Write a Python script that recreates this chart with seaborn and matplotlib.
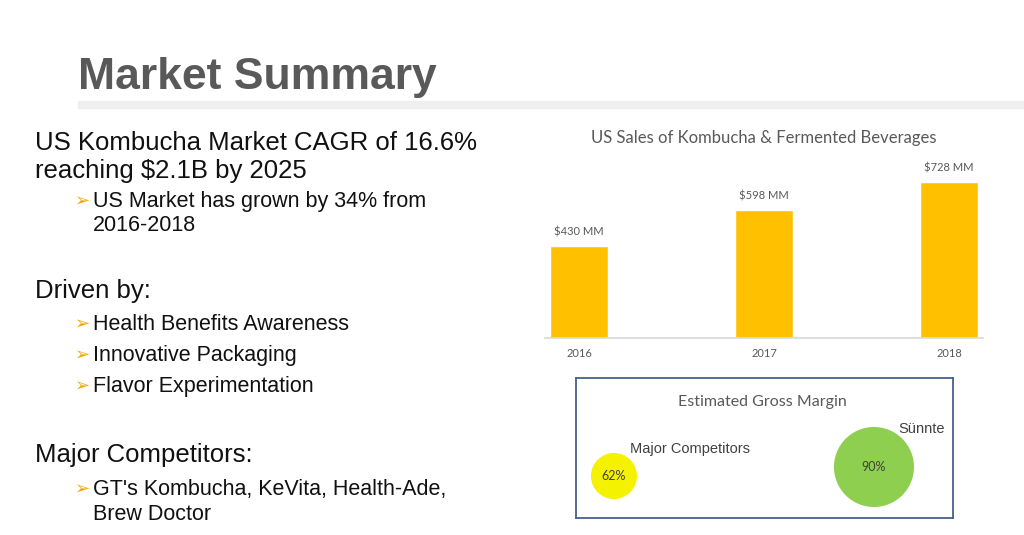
import matplotlib
matplotlib.use("Agg")
import matplotlib.pyplot as plt
import seaborn as sns
from matplotlib.patches import Rectangle

# ---------------------------------------------------------------------------
# data
# ---------------------------------------------------------------------------
years = ["2016", "2017", "2018"]
sales_mm = [430, 598, 728]

margin_groups = ["Major Competitors", "Sünnte"]
margin_pct = [62, 90]

headline = ["US Kombucha Market CAGR of 16.6%", "reaching $2.1B by 2025"]
growth_note = ["US Market has grown by 34% from", "2016-2018"]
drivers = ["Health Benefits Awareness", "Innovative Packaging", "Flavor Experimentation"]
competitors = ["GT's Kombucha, KeVita, Health-Ade,", "Brew Doctor"]

# ---------------------------------------------------------------------------
# style
# ---------------------------------------------------------------------------
sns.set_theme(style="white")
plt.rcParams["font.family"] = ["Liberation Sans", "DejaVu Sans"]

W, H = 1024, 535
GOLD = "#ffc000"
ARROW = "#f2a900"
GREY = "#595959"


def fx(px):
    return px / W


def fy(py):
    return 1 - py / H


fig = plt.figure(figsize=(10.24, 5.35), dpi=100)

# title + grey band
fig.text(fx(78), fy(89), "Market Summary", fontsize=32, fontweight="bold",
         color=GREY, family=["Liberation Sans Narrow", "Liberation Sans"], va="baseline")
fig.patches.append(Rectangle((fx(78), fy(108)), fx(W - 78), 7 / H,
                             transform=fig.transFigure, color="#efefef", zorder=0))


def body(x, y, s, size):
    fig.text(fx(x), fy(y), s, fontsize=size, color="#111111", va="baseline")


def bullet(y, s):
    fig.text(fx(75), fy(y - 1), "➢", fontsize=13, color=ARROW, va="baseline",
             family=["DejaVu Sans"])
    body(93, y, s, 15.5)


body(35, 150, headline[0], 18.5)
body(35, 178, headline[1], 18.5)
bullet(207, growth_note[0])
body(93, 231, growth_note[1], 15.5)

body(35, 298, "Driven by:", 18.5)
for y, s in zip([330, 361, 392], drivers):
    bullet(y, s)

body(35, 462, "Major Competitors:", 18.5)
bullet(495, competitors[0])
body(93, 520, competitors[1], 15.5)

# ---------------------------------------------------------------------------
# bar chart
# ---------------------------------------------------------------------------
ax = fig.add_axes([fx(545), fy(338), fx(983 - 545), 168 / H])
sns.barplot(x=years, y=sales_mm, color=GOLD, width=0.31, saturation=1, ax=ax)
ax.bar_label(ax.containers[0], labels=[f"${v} MM" for v in sales_mm],
             padding=6, fontsize=8, color=GREY, family="Lato")
ax.set_xlim(-0.184, 2.184)
ax.set_ylim(0, 168 * 728 / 156)
ax.set_yticks([])
ax.set_xlabel("")
ax.set_ylabel("")
for side in ["left", "right", "top"]:
    ax.spines[side].set_visible(False)
ax.spines["bottom"].set_color("#d9d9d9")
ax.tick_params(axis="x", length=0, pad=7, labelsize=8, labelcolor=GREY)
for lbl in ax.get_xticklabels():
    lbl.set_family("Lato")
ax.patch.set_alpha(0)
fig.text(fx(764), fy(138), "US Sales of Kombucha & Fermented Beverages",
         fontsize=12, color=GREY, family="Lato", ha="center", va="center")

# ---------------------------------------------------------------------------
# gross margin bubbles
# ---------------------------------------------------------------------------
bx = fig.add_axes([fx(576), fy(518), fx(953 - 576), 140 / H])
sns.scatterplot(x=margin_groups, y=margin_pct, hue=margin_groups,
                palette=["#f5f200", "#8fcf4f"], size=margin_pct,
                sizes=(1100, 3320), linewidth=0, legend=False, ax=bx)
bx.set_xlim(-0.146, 1.304)
bx.set_ylim(62 - 42 * 28 / 9, 90 + 89 * 28 / 9)
bx.set_xticks([])
bx.set_yticks([])
bx.set_xlabel("")
bx.set_ylabel("")
for sp in bx.spines.values():
    sp.set_visible(True)
    sp.set_color("#4a6089")
    sp.set_linewidth(1.3)

for i, (g, v) in enumerate(zip(margin_groups, margin_pct)):
    bx.text(i, v, f"{v}%", ha="center", va="center", fontsize=9,
            color="#404040", family="Lato")

bx.annotate(margin_groups[0], (0, margin_pct[0]), xytext=(11.5, 19.5),
            textcoords="offset points", ha="left", va="center",
            fontsize=10.5, color="#404040")
bx.annotate(margin_groups[1], (1, margin_pct[1]), xytext=(34.5, 27.5),
            textcoords="offset points", ha="center", va="center",
            fontsize=10.5, color="#404040")

fig.text(fx(762), fy(402), "Estimated Gross Margin", fontsize=11.5,
         color=GREY, family="Lato", ha="center", va="center")

fig.savefig("out.png", dpi=100)
